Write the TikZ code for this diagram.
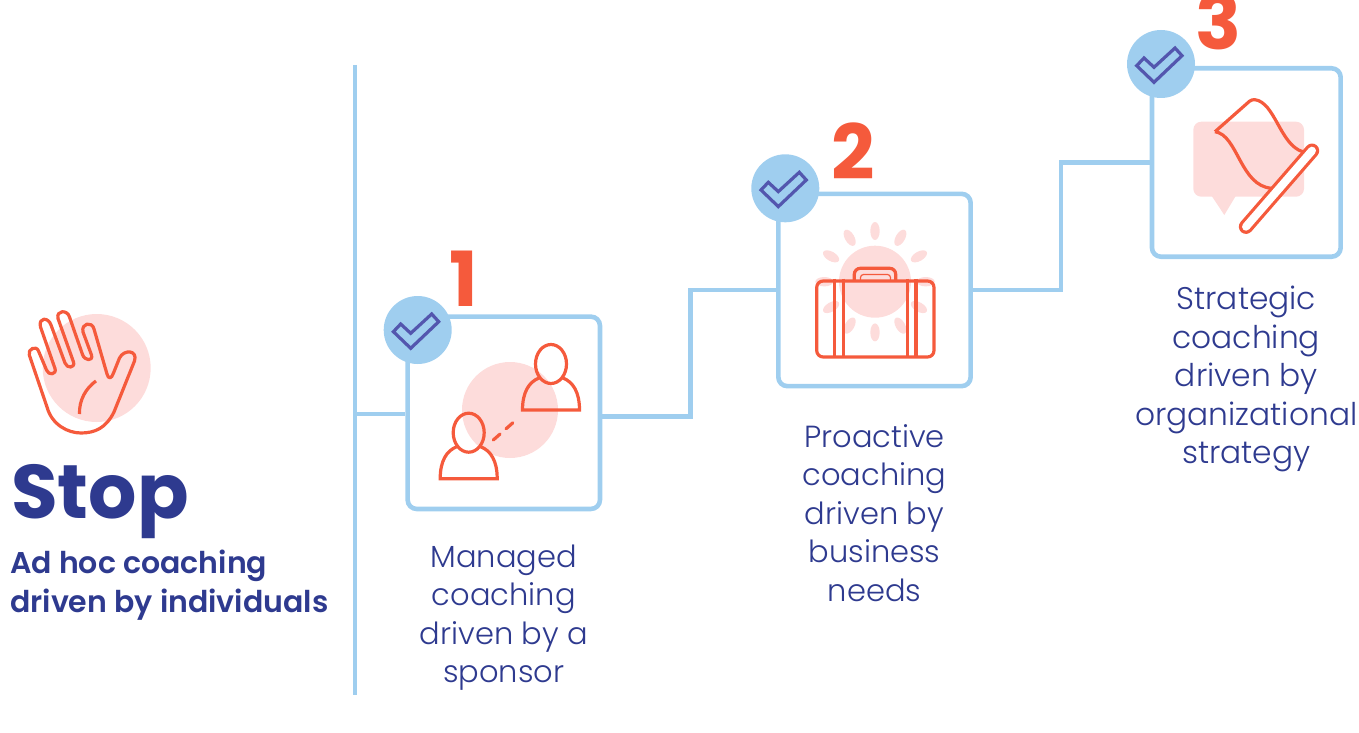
\documentclass[tikz,border=0pt]{standalone}
\usepackage{fontspec}
\setmainfont{Poppins}
\newfontfamily\lightfont{Poppins Light}
\newfontfamily\semifont{Poppins SemiBold}
\usetikzlibrary{positioning}
\definecolor{railblue}{HTML}{9FCEEF}
\definecolor{navy}{HTML}{2E3A8F}
\definecolor{tickblue}{HTML}{5356AE}
\definecolor{coral}{HTML}{F55A3C}
\definecolor{blush}{HTML}{FDDCDB}
\tikzset{
  rail/.style = {draw=railblue, line width=4.6pt},
  stage/.style = {rail, rounded corners=9pt, minimum width=192.3pt, minimum height=192.3pt, inner sep=0pt},
  badge/.style = {circle, fill=railblue, minimum size=68pt, inner sep=0pt},
  numeral/.style = {text=coral, font=\fontsize{76}{76}\selectfont\bfseries, inner sep=0pt},
  caption/.style = {text=navy, align=center, inner sep=0pt, font=\fontsize{30.5}{38.5}\selectfont\lightfont},
  icon/.style = {draw=coral, line width=3.2pt},
  tickmark/.pic = {
    \draw[tickblue, line width=3.2pt, miter limit=10] (-24.3,1.7) -- (-7,18.3) -- (21,-8.3) -- (14,-16) -- (-7,3.3) -- (-17,-6) -- cycle;
  },
  person/.pic = {
    \draw[icon] (0,0) ellipse [x radius=15.5, y radius=19.5];
    \draw[icon] (-12,14) .. controls (-22,18) and (-28.5,28) .. (-28.5,46) -- (28.5,46) .. controls (28.5,28) and (22,18) .. (12,14);
  }
}
\begin{document}
\begin{tikzpicture}[x=1pt, y=-1pt]
\useasboundingbox (0,0) rectangle (1359,733);

% rail on the left
\coordinate (railtop) at (355,65);
\coordinate (railbot) at (355,695);
\coordinate (railout) at (355,414);
\draw[rail] (railtop) -- (railbot);

% boxes
\node[stage] (box1) at (503.8,412.8) {};
\node[stage] (box2) at (874.5,290) {};
\node[stage, minimum width=188.7pt, minimum height=188.4pt] (box3) at (1246.3,162.5) {};

\draw[rail] (railout) -- (railout -| box1.west);
\draw[rail] ([yshift=-3.9pt]box1.east) -- ++(88,0) |- (box2.west);
\draw[rail] (box2.east) -- ++(88,0) |- (box3.west);

% stop
\fill[blush] (96.7,368) circle (54);
\draw[icon, line join=round] (29.3,355) .. controls (27.3,349) and (36.5,345) .. (38.5,351)
  -- (46.5,370) .. controls (48.5,376) and (57,374.5) .. (55,368.5)
  -- (40.5,327) .. controls (38,317) and (48.5,317) .. (51,325)
  -- (65,363) .. controls (67,369) and (75.5,368) .. (73.5,362)
  -- (58,318.5) .. controls (56,310) and (67.5,309.5) .. (69.5,317)
  -- (82.5,354.5) .. controls (84.5,361) and (93.5,361.5) .. (91.5,355)
  -- (83,332) .. controls (81,323) and (92,321) .. (94,329)
  -- (107,374) .. controls (108.5,379.5) and (111.5,379) .. (113.5,373)
  -- (119.5,358) .. controls (124,349) and (138,350) .. (134.5,361)
  -- (114,412) .. controls (106,428) and (95,433) .. (81,433)
  .. controls (68,433) and (52,425) .. (47,407) -- cycle;
\draw[icon] (96,381) .. controls (86,388) and (79,400) .. (79.5,414);
\node[text=navy, font=\fontsize{76}{76}\selectfont\bfseries, inner sep=0pt, anchor=base west] (stop) at (11,518) {Stop};
\node[text=navy, font=\fontsize{30}{39}\selectfont\semifont, align=left, inner sep=0pt, anchor=north west] (adhoc) at (10,550) {Ad hoc coaching\\driven by individuals};

% step 1
\fill[blush] (510,410) circle (48);
\pic at (551,364) {person};
\pic at (468.7,432.7) {person};
\coordinate (linka) at (493.3,440);
\coordinate (linkb) at (518.3,418);
\draw[icon, line cap=round, dash pattern=on 9pt off 8pt] (linka) -- (linkb);
\node[badge] (badge1) at (417.7,330) {};
\pic at (badge1) {tickmark};
\node[numeral] (num1) at (464,279) {1};
\node[caption, below=33pt of box1] (cap1) {Managed\\coaching\\driven by a\\sponsor};

% step 2
\fill[blush] (875,281.7) circle (36);
\foreach \a in {0,30,...,330}
  \fill[blush] (875,281.7) ++(\a:50.7) ellipse [x radius=9, y radius=4.7, rotate=-\a];
\draw[icon, rounded corners=6.5pt] (816.7,281) rectangle (934,357);
\draw[icon] (834.3,278.7) -- (834.3,357) (843.3,278.7) -- (843.3,357);
\draw[icon] (907.7,278.7) -- (907.7,357) (916,278.7) -- (916,357);
\draw[icon, rounded corners=6pt] (854.3,281) -- (854.3,268.3) -- (895.7,268.3) -- (895.7,281);
\draw[icon, line width=1.2pt, rounded corners=3pt] (860.5,281) -- (860.5,274.5) -- (890.5,274.5) -- (890.5,281);
\node[badge] (badge2) at (785.3,188.3) {};
\pic at (badge2) {tickmark};
\node[numeral] (num2) at (853,151) {2};
\node[caption, below=35.5pt of box2] (cap2) {Proactive\\coaching\\driven by\\business\\needs};

% step 3
\fill[blush, rounded corners=8pt] (1193.3,121.7) rectangle (1304,196.7);
\fill[blush] (1211.7,196) -- (1235.7,196) -- (1224.3,215) -- cycle;
\draw[icon, double=white, double distance=8pt, line cap=round] (1246,226.7) -- (1312,150.7);
\draw[icon, line join=round, rounded corners=3pt] (1215,131.7) -- (1251.7,99.3) .. controls (1275,102) and (1280,145) .. (1302.7,151.7);
\draw[icon, line join=round] (1271.7,188.3) .. controls (1240,186) and (1238,135) .. (1215,131.7);
\node[badge] (badge3) at (1161,64) {};
\pic at (badge3) {tickmark};
\node[numeral] (num3) at (1218,21) {3};
\node[caption, font=\fontsize{31.3}{38.5}\selectfont\lightfont, below=27pt of box3] (cap3) {Strategic\\coaching\\driven by\\organizational\\strategy};
\end{tikzpicture}
\end{document}
